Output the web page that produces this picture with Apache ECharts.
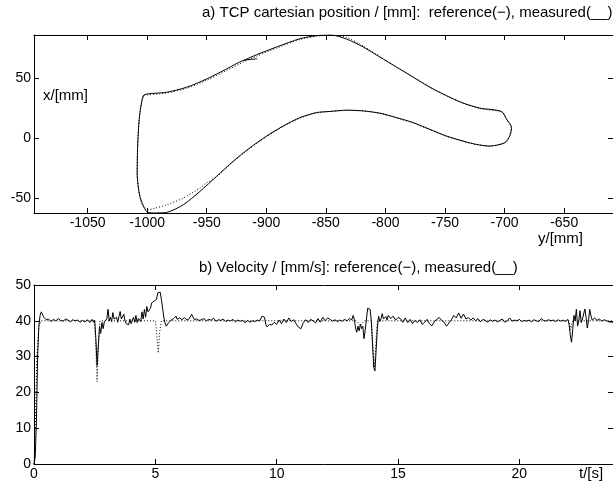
<!DOCTYPE html>
<html>
<head>
<meta charset="utf-8">
<script src="https://cdn.jsdelivr.net/npm/echarts@6/dist/echarts.min.js"></script>
<style>
html,body{margin:0;padding:0;background:#fff;}
#chart{width:613px;height:482px;}
</style>
</head>
<body>
<div id="chart"></div>
<script>
// ---------- Data ----------
// a) TCP cartesian position: [y (mm, horizontal), x (mm, vertical)]
var tcpMeasured = [
  [-919.4,64.7],[-908.2,69.5],[-891.4,76.0],[-871.8,82.9],[-857.8,85.5],[-846.0,86.1],[-832.6,82.6],
  [-818.7,76.0],[-804.7,67.6],[-790.7,59.2],[-776.7,50.8],[-762.7,42.4],[-748.7,35.3],[-734.8,29.2],
  [-720.7,25.0],[-702.5,22.2],[-698.3,15.7],[-694.1,8.7],[-695.6,1.7],[-699.8,-3.9],[-712.4,-6.7],
  [-723.5,-5.3],[-734.8,-2.5],[-748.7,1.7],[-762.7,7.3],[-776.7,12.9],[-790.7,17.1],[-804.7,20.8],
  [-818.7,22.7],[-832.6,23.3],[-846.6,22.2],[-857.8,21.3],[-871.8,17.1],[-885.8,10.1],[-899.8,1.7],
  [-913.8,-8.1],[-927.8,-19.3],[-941.7,-31.9],[-955.7,-44.5],[-969.8,-55.7],[-983.7,-62.0],[-994.9,-62.5],
  [-1000.5,-61.3],[-1006.1,-48.7],[-1008.4,-29.1],[-1008.0,-6.7],[-1006.7,15.7],[-1004.7,29.7],[-1002.5,36.1],
  [-983.7,38.2],[-966.9,42.4],[-950.1,49.3],[-933.3,57.7],[-919.4,64.7],[-907.7,66.1]
];
var tcpReference = [
  [-1002.5,35.8],[-983.7,37.6],[-966.9,41.5],[-950.1,48.2],[-933.3,56.4],[-919.4,63.4],[-908.2,68.3],
  [-891.4,75.0],[-871.8,82.2],[-857.8,85.0],[-845.0,85.8],[-832.6,84.0],[-818.7,76.8],[-804.7,68.0],
  [-790.7,59.4],[-776.7,51.0],[-762.7,42.6],[-748.7,35.4],[-734.8,29.0],[-720.7,24.6],[-702.5,21.8],
  [-698.3,15.7],[-694.5,8.7],[-696.0,1.7],[-700.2,-3.9],[-712.4,-6.6],[-723.5,-5.5],[-734.8,-2.8],
  [-748.7,1.4],[-762.7,7.0],[-776.7,12.6],[-790.7,16.8],[-804.7,20.6],[-818.7,22.6],[-832.6,23.1],
  [-846.6,22.2],[-857.8,21.0],[-871.8,16.6],[-885.8,9.6],[-899.8,1.2],[-913.8,-8.6],[-927.8,-19.8],
  [-941.7,-32.2],[-950.1,-37.5],[-955.7,-41.7],[-969.8,-50.1],[-983.7,-55.7],[-993.5,-58.5],[-1000.5,-60.0],
  [-1005.5,-52.0],[-1008.4,-29.1],[-1008.0,-6.7],[-1006.7,15.7],[-1004.7,29.7],[-1002.5,35.8]
];
var posHTicks = [-1050,-1000,-950,-900,-850,-800,-750,-700,-650];
var posVTicks = [-50,0,50];

// b) Velocity: [t (s), v (mm/s)]
var velMeasured = [
  [0.00,0],[0.05,2],[0.10,12],[0.15,30],[0.20,38.5],[0.25,41.5],[0.30,42.5],[0.35,42],[0.40,41],
  [0.50,40.3],[0.60,40.5],[0.70,39.8],[0.80,40.4],[0.90,40.0],[1.00,40.6],[1.10,40.1],[1.20,39.9],
  [1.30,40.5],[1.40,40.2],[1.50,39.7],[1.60,40.3],[1.70,40.0],[1.80,40.2],[1.90,39.6],[2.00,40.1],
  [2.10,39.7],[2.20,40.3],[2.30,39.5],[2.40,40.4],[2.45,39.6],[2.50,40.2],[2.55,35],[2.60,27.5],
  [2.65,33],[2.70,38.5],[2.75,36.5],[2.80,39.5],[2.85,37.8],[2.90,39.8],[3.00,40.5],[3.05,43.2],
  [3.10,40],[3.15,41],[3.20,39.8],[3.25,42.3],[3.30,40.5],[3.40,41],[3.45,39.6],[3.50,41.2],[3.55,42.6],
  [3.60,40.5],[3.70,41.8],[3.75,40],[3.80,39.2],[3.90,38.9],[3.95,40.5],[4.00,39.2],[4.10,41],[4.15,39.6],
  [4.20,41.5],[4.25,39.5],[4.30,40.7],[4.40,39.8],[4.45,42.5],[4.50,40.5],[4.55,43.2],[4.60,41],[4.65,44],
  [4.70,42.5],[4.80,43.5],[4.85,45],[4.90,44.5],[4.95,45.5],[5.05,46],[5.10,47.8],[5.20,48],[5.25,46],
  [5.30,43.5],[5.35,41],[5.40,39.4],[5.45,38.5],[5.55,39.5],[5.65,40.2],[5.75,40.6],[5.85,41.3],[5.90,40.4],
  [6.00,40.8],[6.10,40.3],[6.20,40.9],[6.30,40.2],[6.40,40.6],[6.50,41.8],[6.60,40.4],[6.70,40.5],[6.80,40.1],
  [6.90,40.3],[7.00,40.6],[7.10,40.0],[7.20,40.4],[7.30,40.2],[7.40,40.7],[7.50,39.9],[7.60,40.3],[7.70,40.1],
  [7.80,40.5],[7.90,39.8],[8.00,40.2],[8.10,40.0],[8.20,40.4],[8.30,39.7],[8.40,40.2],[8.50,39.9],[8.60,40.1],
  [8.70,39.5],[8.80,40.1],[8.90,39.6],[9.00,40.0],[9.10,39.8],[9.20,40.2],[9.30,40.0],[9.40,41.3],[9.50,41.0],
  [9.55,39.0],[9.60,38.3],[9.70,39.0],[9.80,38.8],[9.90,39.6],[10.00,39.0],[10.10,40.2],[10.20,39.2],
  [10.30,40.5],[10.40,39.5],[10.50,40.8],[10.60,39.8],[10.70,40.3],[10.80,39.2],[10.90,38.2],[11.00,37.8],
  [11.10,39.5],[11.20,40.3],[11.30,39.5],[11.40,40.4],[11.50,40.0],[11.60,39.4],[11.70,40.6],[11.80,39.6],
  [11.90,41.0],[12.00,40.0],[12.10,40.8],[12.20,40.4],[12.30,39.9],[12.40,40.3],[12.50,39.8],[12.60,40.2],
  [12.70,39.9],[12.80,40.4],[12.90,40.0],[13.00,40.6],[13.10,40.3],[13.15,41.5],[13.20,40.5],[13.25,38],
  [13.30,36.8],[13.35,38.5],[13.40,37.2],[13.45,39],[13.50,37.8],[13.55,38.5],[13.60,35],[13.65,37.5],
  [13.70,40.5],[13.75,43.5],[13.80,43.8],[13.85,43.2],[13.90,40],[13.95,33.5],[14.00,27],[14.05,26],
  [14.10,32],[14.15,38],[14.20,41.3],[14.25,39.8],[14.30,40.6],[14.35,42],[14.40,40.5],[14.50,41.2],
  [14.55,40.2],[14.60,41.5],[14.70,40.6],[14.80,41.3],[14.90,40.2],[15.00,40.9],[15.10,40.6],[15.20,39.6],
  [15.30,40.8],[15.40,39.5],[15.50,40.4],[15.60,39.2],[15.70,40.1],[15.80,39.5],[15.90,40.3],[16.00,39.0],
  [16.10,39.6],[16.20,40.4],[16.30,39.1],[16.40,38.6],[16.50,39.8],[16.60,40.4],[16.70,40.9],[16.80,40.1],
  [16.90,39.6],[17.00,38.5],[17.10,39.4],[17.20,40.3],[17.30,41.5],[17.40,40.8],[17.50,42.2],[17.60,40.7],
  [17.70,41.9],[17.80,40.5],[17.90,40.9],[18.00,40.2],[18.10,40.8],[18.20,40.0],[18.30,40.6],[18.40,39.7],
  [18.50,40.4],[18.60,40.1],[18.70,39.6],[18.80,40.3],[18.90,39.9],[19.00,40.2],[19.10,39.7],[19.20,40.1],
  [19.30,40.5],[19.40,39.6],[19.50,40.0],[19.60,40.8],[19.70,39.9],[19.80,40.2],[19.90,40.0],[20.00,40.4],
  [20.10,39.8],[20.20,40.1],[20.30,39.9],[20.40,40.2],[20.50,39.7],[20.60,40.3],[20.70,40.0],[20.80,39.8],
  [20.90,40.6],[21.00,40.1],[21.10,39.9],[21.20,40.3],[21.30,40.0],[21.40,40.2],[21.50,39.8],[21.60,40.3],
  [21.70,39.9],[21.80,40.2],[21.90,39.8],[22.00,40.4],[22.05,39],[22.10,36],[22.15,34],[22.20,37.5],
  [22.25,41.5],[22.30,40],[22.35,43.2],[22.40,38.5],[22.45,40],[22.50,42.8],[22.55,39.5],[22.60,40.5],
  [22.70,43.3],[22.75,41],[22.80,38],[22.85,40],[22.90,43.2],[22.95,41.5],[23.00,40.2],[23.10,40.8],
  [23.20,40.1],[23.30,40.5],[23.40,39.9],[23.50,40.3],[23.60,40.0],[23.70,39.7],[23.86,39.6]
];
var velReference = [
  [0,0],[0.05,10],[0.12,30],[0.2,38.5],[0.3,40],[2.5,40],[2.55,32],[2.6,23],[2.65,33],[2.72,40],
  [5.0,40],[5.05,37],[5.12,31],[5.18,37],[5.25,40],[13.3,40],[13.45,38.5],[13.6,40],[13.9,40],
  [13.97,32],[14.03,27],[14.1,35],[14.15,40],[22.05,40],[22.12,37.5],[22.2,40],[23.86,40]
];
var velTTicks = [0,5,10,15,20];
var velVTicks = [0,10,20,30,40,50];

// ---------- Chart ----------
var FONT = '"Liberation Sans", Arial, Helvetica, sans-serif';
var chart = echarts.init(document.getElementById('chart'), null, {renderer:'canvas'});
function plain(v) { return String(v); }

function axisBase(extra) {
  var o = {
    type:'value',
    axisLine:{show:true, onZero:false, lineStyle:{color:'#000', width:1}},
    axisTick:{show:true, inside:true, length:5, lineStyle:{color:'#000', width:1}},
    axisLabel:{show:true, color:'#000', fontSize:14, fontFamily:FONT, formatter:plain},
    splitLine:{show:false}
  };
  for (var k in extra) {
    if (typeof extra[k] === 'object' && !Array.isArray(extra[k]) && o[k]) {
      for (var j in extra[k]) o[k][j] = extra[k][j];
    } else o[k] = extra[k];
  }
  return o;
}

var option = {
  animation:false,
  backgroundColor:'#fff',
  grid:[
    {left:34, top:35, width:579, height:178, containLabel:false},
    {left:34, top:285, width:579, height:179, containLabel:false}
  ],
  xAxis:[
    axisBase({gridIndex:0, position:'bottom', min:-1095, max:-609,
      axisTick:{customValues:posHTicks}, axisLabel:{customValues:posHTicks, margin:3}}),
    axisBase({gridIndex:0, position:'top', min:-1095, max:-609,
      axisTick:{customValues:posHTicks}, axisLabel:{show:false}}),
    axisBase({gridIndex:1, position:'bottom', min:0, max:23.86,
      axisTick:{customValues:velTTicks}, axisLabel:{customValues:velTTicks, margin:3}}),
    axisBase({gridIndex:1, position:'top', min:0, max:23.86,
      axisTick:{customValues:velTTicks}, axisLabel:{show:false}})
  ],
  yAxis:[
    axisBase({gridIndex:0, position:'left', min:-62.5, max:86,
      axisTick:{customValues:posVTicks}, axisLabel:{customValues:posVTicks, margin:3}}),
    axisBase({gridIndex:0, position:'right', min:-62.5, max:86,
      axisTick:{customValues:posVTicks}, axisLabel:{show:false}}),
    axisBase({gridIndex:1, position:'left', min:0, max:50,
      axisTick:{customValues:velVTicks}, axisLabel:{customValues:velVTicks, margin:3}}),
    axisBase({gridIndex:1, position:'right', min:0, max:50,
      axisTick:{customValues:velVTicks}, axisLabel:{show:false}})
  ],
  series:[
    {type:'line', xAxisIndex:0, yAxisIndex:0, data:tcpReference, showSymbol:false, smooth:0.25,
      lineStyle:{color:'#000', width:1, type:[1,2]}, clip:true, silent:true},
    {type:'line', xAxisIndex:0, yAxisIndex:0, data:tcpMeasured, showSymbol:false, smooth:0.25,
      lineStyle:{color:'#000', width:1}, clip:true, silent:true},
    {type:'line', xAxisIndex:2, yAxisIndex:2, data:velReference, showSymbol:false,
      lineStyle:{color:'#000', width:1, type:[1,2]}, clip:true, silent:true},
    {type:'line', xAxisIndex:2, yAxisIndex:2, data:velMeasured, showSymbol:false,
      lineStyle:{color:'#000', width:1}, clip:true, silent:true}
  ],
  graphic:[
    {type:'text', left:202, top:5, style:{text:'a) TCP cartesian position / [mm]:  reference(\u2212), measured(__)', fill:'#000', font:'15px ' + FONT}},
    {type:'text', left:43, top:88, style:{text:'x/[mm]', fill:'#000', font:'15px ' + FONT}},
    {type:'text', left:538, top:231, style:{text:'y/[mm]', fill:'#000', font:'15px ' + FONT}},
    {type:'text', left:199, top:260, style:{text:'b) Velocity / [mm/s]: reference(\u2212), measured(__)', fill:'#000', font:'15px ' + FONT}},
    {type:'text', left:579, top:466, style:{text:'t/[s]', fill:'#000', font:'15px ' + FONT}}
  ]
};
chart.setOption(option);
</script>
</body>
</html>
